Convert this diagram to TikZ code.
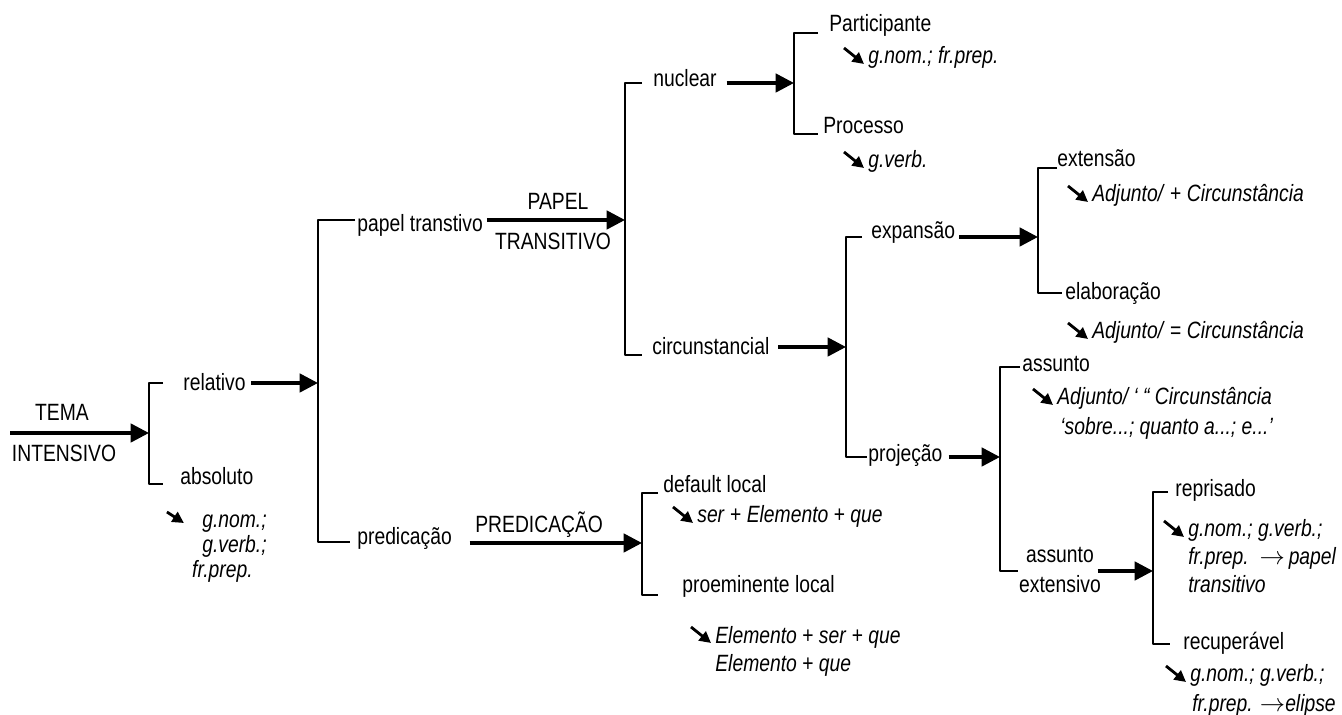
\documentclass[tikz,border=0pt]{standalone}
\usepackage{fontspec}
\setmainfont{Liberation Sans}[FakeStretch=0.82]
\usetikzlibrary{arrows.meta}
\newcommand{\ptrto}[1]{\draw[ptr] ([shift={(-24,-16)}]#1.base west) -- ([shift={(-4,0)}]#1.base west);}
\begin{document}
\begin{tikzpicture}[x=0.02cm,y=-0.02cm,line join=round,font=\fontsize{13.4}{16}\selectfont,
	txt/.style={inner sep=0pt,anchor=base west},
	brk/.style={line width=1pt},
	arr/.style={line width=2pt,-{Triangle[length=10.5pt,width=10.5pt]}},
	ptr/.style={line width=1.6pt,-{Triangle[length=6.5pt,width=6.5pt]}}]
	\useasboundingbox (0,0) rectangle (1342,715);
	% bracket spines
	\coordinate (b1) at (149,433);
	\coordinate (b2) at (318,383);
	\coordinate (b3) at (625,220);
	\coordinate (b4) at (794,83);
	\coordinate (b5) at (846,347);
	\coordinate (b6) at (1038,237);
	\coordinate (b7) at (1000,457);
	\coordinate (b8) at (1153,571);
	\coordinate (b9) at (642,543);
	\coordinate (start) at (10,433);
	\draw[brk] (163,383) -- (149,383) -- (149,484) -- (163,484);
	\draw[brk] (355,220) -- (318,220) -- (318,542) -- (350,542);
	\draw[brk] (642,83) -- (625,83) -- (625,355) -- (642,355);
	\draw[brk] (818,33) -- (794,33) -- (794,134) -- (818,134);
	\draw[brk] (862,237) -- (846,237) -- (846,457) -- (867,457);
	\draw[brk] (1057,168) -- (1038,168) -- (1038,293) -- (1062,293);
	\draw[brk] (1020,367) -- (1000,367) -- (1000,571) -- (1018,571);
	\draw[brk] (1168,492) -- (1153,492) -- (1153,644) -- (1170,644);
	\draw[brk] (658,493) -- (642,493) -- (642,595) -- (658,595);
	% tema
	\node[txt,anchor=base] (tema) at (62,421) {TEMA};
	\node[txt,anchor=base] (intens) at (64,462) {INTENSIVO};
	\draw[arr] (start) -- (b1);
	\node[txt] (relativo) at (183,391) {relativo};
	\node[txt] (absoluto) at (180,485) {absoluto};
	\node[txt,anchor=base east] (absA) at (267,528) {\textit{g.nom.;}};
	\node[txt,anchor=base east] (absB) at (267,553) {\textit{g.verb.;}};
	\node[txt,anchor=base east] (absC) at (253,578) {\textit{fr.prep.}};
	\draw[ptr] ([shift={(-35,-16)}]absA.base west) -- ([shift={(-18,-5)}]absA.base west);
	\draw[arr,shorten <=3pt] (relativo.east |- b2) -- (b2);
	% papel transitivo
	\node[txt] (papel) at (357,232) {papel transtivo};
	\node[txt,anchor=base] (papelT) at (558,210) {PAPEL};
	\node[txt,anchor=base] (transT) at (553,250) {TRANSITIVO};
	\draw[arr,shorten <=2pt] (papel.east |- b3) -- (b3);
	\node[txt] (nuclear) at (653,87) {nuclear};
	\draw[arr,shorten <=5.5pt] (nuclear.east |- b4) -- (b4);
	\node[txt] (partic) at (829,32) {Participante};
	\node[txt] (partH) at (868,64) {\textit{g.nom.; fr.prep.}};
	\ptrto{partH}
	\node[txt] (proc) at (823,134) {Processo};
	\node[txt] (procH) at (868,168) {\textit{g.verb.}};
	\ptrto{procH}
	\node[txt] (circ) at (652,355) {circunstancial};
	\draw[arr,shorten <=5pt] (circ.east |- b5) -- (b5);
	\node[txt] (expans) at (871,239) {expans\~ao};
	\draw[arr,shorten <=2.3pt] (expans.east |- b6) -- (b6);
	\node[txt] (extens) at (1057,167) {extensão};
	\node[txt] (extH) at (1092,202) {\textit{Adjunto/} + \textit{Circunstância}};
	\ptrto{extH}
	\node[txt] (elab) at (1065,300) {elaboração};
	\node[txt] (elabH) at (1092,339) {\textit{Adjunto/} = \textit{Circunstância}};
	\ptrto{elabH}
	\node[txt] (projec) at (868,462) {projeção};
	\draw[arr,shorten <=3.4pt] (projec.east |- b7) -- (b7);
	\node[txt] (assunto) at (1022,372) {assunto};
	\node[txt] (assH) at (1057,405) {\textit{Adjunto/ ‘ “ Circunstância}};
	\node[txt] (assH2) at (1060,435) {\textit{‘sobre...; quanto a...; e...’}};
	\ptrto{assH}
	\node[txt,anchor=base] (assExt) at (1060,563) {assunto};
	\node[txt,anchor=base] (assExt2) at (1060,593) {extensivo};
	\draw[arr,shorten <=2pt] (assExt.east |- b8) -- (b8);
	\node[txt] (repris) at (1175,497) {reprisado};
	\node[txt] (repA) at (1188,537) {\textit{g.nom.; g.verb.;}};
	\node[txt] (repB) at (1188,565) {\textit{fr.prep.}\ \ $\rightarrow$\,\textit{papel}};
	\node[txt] (repC) at (1188,593) {\textit{transitivo}};
	\ptrto{repA}
	\node[txt] (recup) at (1183,650) {recuperável};
	\node[txt] (recA) at (1190,682) {\textit{g.nom.; g.verb.;}};
	\node[txt] (recB) at (1192,711) {\textit{fr.prep.} $\rightarrow$\textit{elipse}};
	\ptrto{recA}
	% predicacao
	\node[txt] (predic) at (357,545) {predicação};
	\node[txt] (predT) at (475,533) {PREDICAÇÃO};
	\draw[arr,shorten <=10pt] (predic.east |- b9) -- (b9);
	\node[txt] (deflt) at (663,493) {default local};
	\node[txt] (defH) at (697,523) {\textit{ser} + \textit{Elemento} + \textit{que}};
	\ptrto{defH}
	\node[txt] (proem) at (682,593) {proeminente local};
	\node[txt] (proA) at (715,643) {\textit{Elemento} + \textit{ser} + \textit{que}};
	\node[txt] (proB) at (715,672) {\textit{Elemento} + \textit{que}};
	\ptrto{proA}
\end{tikzpicture}
\end{document}
